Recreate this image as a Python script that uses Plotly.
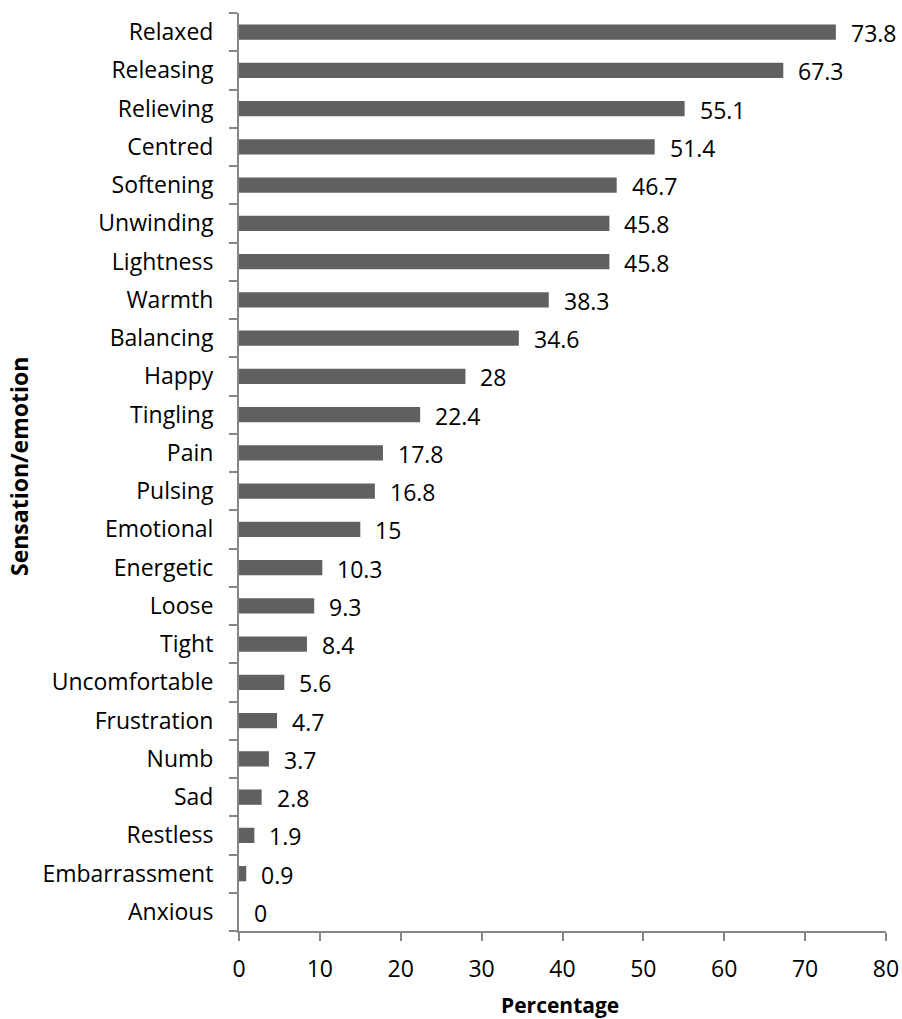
import plotly.graph_objects as go

categories = ["Relaxed", "Releasing", "Relieving", "Centred", "Softening", "Unwinding",
              "Lightness", "Warmth", "Balancing", "Happy", "Tingling", "Pain", "Pulsing",
              "Emotional", "Energetic", "Loose", "Tight", "Uncomfortable", "Frustration",
              "Numb", "Sad", "Restless", "Embarrassment", "Anxious"]
values = [73.8, 67.3, 55.1, 51.4, 46.7, 45.8, 45.8, 38.3, 34.6, 28, 22.4, 17.8, 16.8,
          15, 10.3, 9.3, 8.4, 5.6, 4.7, 3.7, 2.8, 1.9, 0.9, 0]
x_ticks = [0, 10, 20, 30, 40, 50, 60, 70, 80]

FONT = "Open Sans"
AXIS_COLOR = "#868686"
FS = 23

fig = go.Figure()
fig.add_trace(go.Bar(
    x=values, y=categories, orientation="h",
    marker=dict(color="#606060", line=dict(width=0)),
    width=0.4,
    hoverinfo="x+y",
))

annotations = []
for c, v in zip(categories, values):
    annotations.append(dict(
        x=v, y=c, xref="x", yref="y", text=str(v), showarrow=False,
        xanchor="left", yanchor="middle", xshift=13, yshift=-1,
        font=dict(family=FONT, size=FS, color="black"),
    ))
annotations.append(dict(
    x=0, y=0.5, xref="paper", yref="paper", text="<b>Sensation/emotion</b>",
    textangle=-90, showarrow=False, xanchor="center", yanchor="middle",
    xshift=-220, yshift=5,
    font=dict(family=FONT, size=23, color="black"),
))
annotations.append(dict(
    x=0.5, y=0, xref="paper", yref="paper", text="<b>Percentage</b>",
    showarrow=False, xanchor="center", yanchor="middle", xshift=-3, yshift=-74,
    font=dict(family=FONT, size=21, color="black"),
))

fig.update_layout(
    width=902, height=1019,
    margin=dict(l=239, r=16, t=13, b=88, autoexpand=False),
    plot_bgcolor="white", paper_bgcolor="white",
    showlegend=False,
    font=dict(family=FONT, size=FS, color="black"),
    annotations=annotations,
    xaxis=dict(
        range=[0, 80], tickvals=x_ticks, ticktext=[str(t) for t in x_ticks],
        showgrid=False, zeroline=False, automargin=False,
        showline=True, linecolor=AXIS_COLOR, linewidth=2,
        ticks="outside", ticklen=8, tickwidth=2, tickcolor=AXIS_COLOR,
        ticklabelstandoff=8,
        tickfont=dict(family=FONT, size=FS, color="black"),
    ),
    yaxis=dict(
        categoryorder="array", categoryarray=categories[::-1],
        range=[-0.5, len(categories) - 0.5], automargin=False,
        showgrid=False, zeroline=False,
        showline=True, linecolor=AXIS_COLOR, linewidth=2,
        ticks="outside", ticklen=8, tickwidth=2, tickcolor=AXIS_COLOR,
        tickson="boundaries", ticklabelstandoff=19,
        tickfont=dict(family=FONT, size=FS, color="black"),
    ),
)

fig.write_html(
    "out.html",
    config={"displayModeBar": False},
    post_script="document.body.style.margin='0';document.body.style.overflow='hidden';",
)
